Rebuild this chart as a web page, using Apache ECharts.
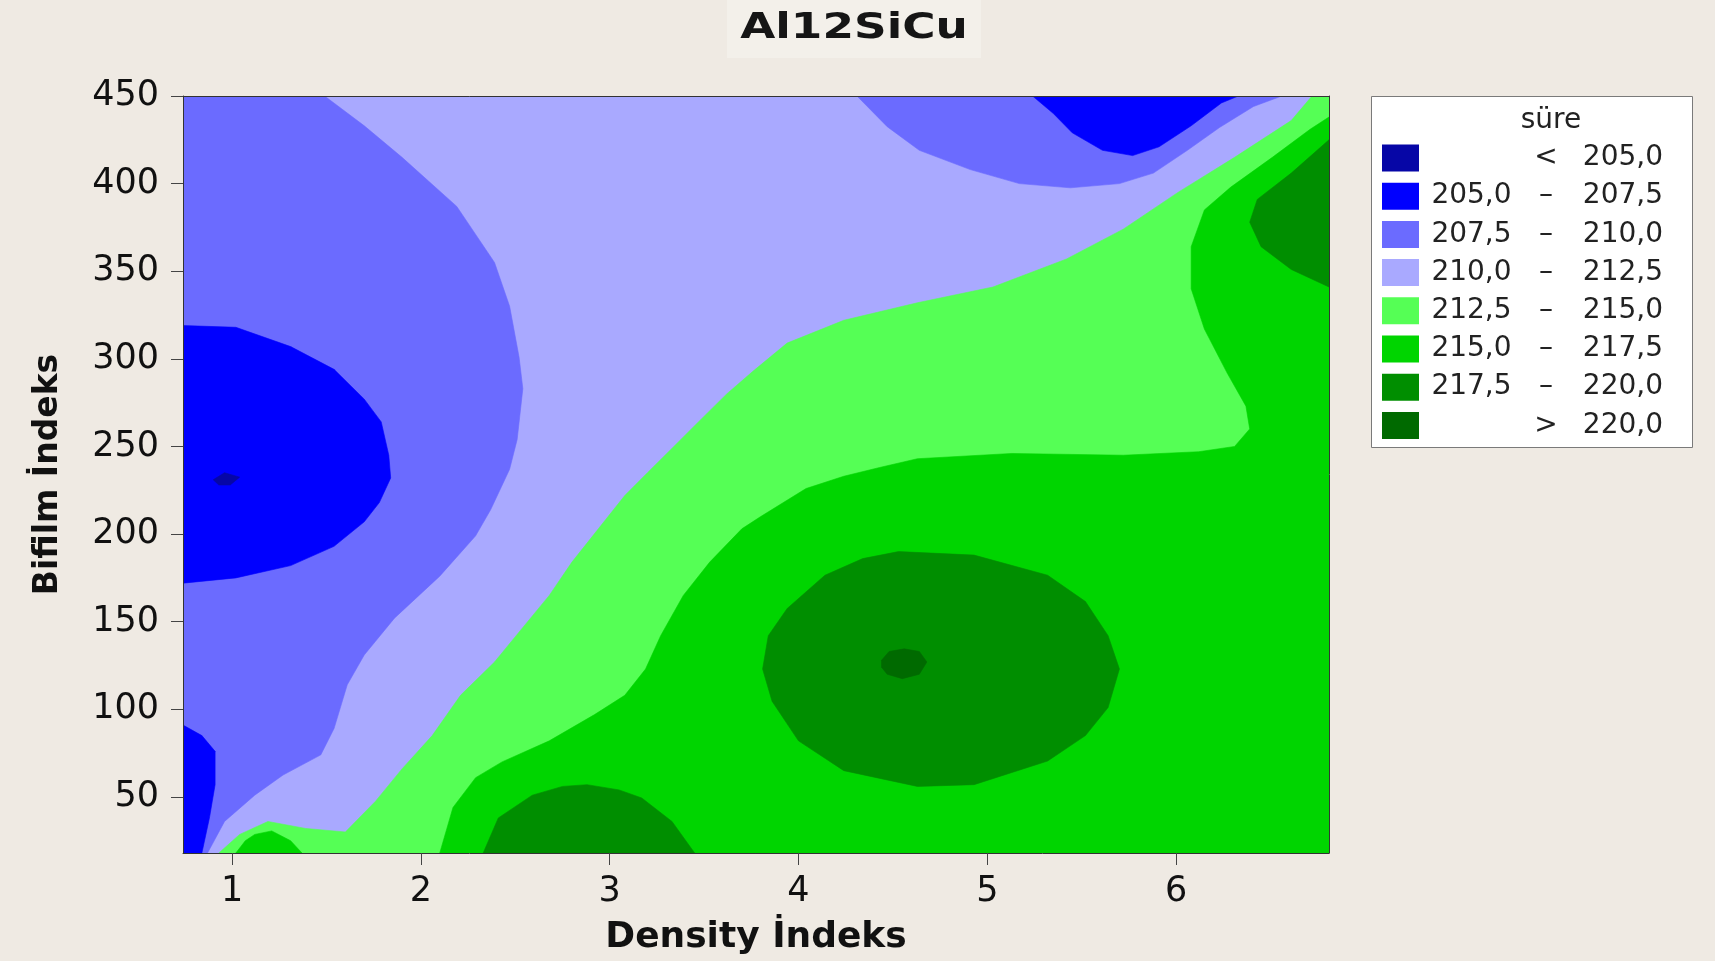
<!DOCTYPE html>
<html>
<head>
<meta charset="utf-8">
<script src="https://cdn.jsdelivr.net/npm/echarts@6/dist/echarts.min.js"></script>
<style>
  html, body { margin: 0; padding: 0; background: #efeae3; }
  #chart { width: 1715px; height: 961px; }
</style>
</head>
<body>
<div id="chart"></div>
<script>
// Axis extents and tick positions
const xRange = [0.74, 6.81];
const yRange = [18, 450];
const xTicks = [1, 2, 3, 4, 5, 6];
const yTicks = [50, 100, 150, 200, 250, 300, 350, 400, 450];

// Contour levels of "süre" (legend order)
const levelNames = ['< 205,0', '205,0 – 207,5', '207,5 – 210,0', '210,0 – 212,5',
                    '212,5 – 215,0', '215,0 – 217,5', '217,5 – 220,0', '> 220,0'];
const levelColors = ['#0606a6', '#0000ff', '#6b6bff', '#a9a9ff',
                     '#55ff55', '#00d500', '#008e00', '#006a00'];

// Filled regions per level, as [Density İndeks, Bifilm İndeks] outlines
const band210 = [
  [[0.74, 18], [6.81, 18], [6.81, 450], [0.74, 450]]
];
const band212 = [
  [[0.93, 18], [1.04, 28.6], [1.19, 36], [1.39, 32], [1.60, 30], [1.76, 47.6], [1.90, 66],
   [2.06, 85], [2.21, 108], [2.39, 127], [2.55, 148], [2.68, 165], [2.80, 184], [2.94, 203],
   [3.08, 222], [3.20, 235], [3.34, 250], [3.47, 264], [3.62, 280], [3.76, 293], [3.94, 309],
   [4.24, 322], [4.63, 332], [5.03, 341], [5.42, 357], [5.72, 374], [6.01, 395], [6.31, 415],
   [6.61, 436], [6.72, 450], [6.81, 450], [6.81, 18]]
];
const band215 = [
  [[2.10, 18], [2.17, 44], [2.29, 61], [2.43, 70], [2.68, 82], [2.92, 97], [3.08, 108],
   [3.19, 123], [3.27, 142], [3.39, 165], [3.53, 184], [3.70, 203], [3.80, 210], [4.04, 226],
   [4.24, 233], [4.43, 238], [4.63, 243], [5.13, 246], [5.72, 245], [6.12, 247], [6.31, 250],
   [6.39, 260], [6.37, 273], [6.27, 292], [6.15, 317], [6.08, 340], [6.08, 364], [6.15, 385],
   [6.29, 398], [6.51, 415], [6.71, 431], [6.81, 438], [6.81, 18]],
  [[1.02, 18], [1.07, 25], [1.12, 28.6], [1.21, 30.6], [1.31, 25], [1.37, 18]]
];
const band217 = [
  [[4.53, 190], [4.93, 188], [5.32, 176.5], [5.52, 161.5], [5.64, 142], [5.70, 123],
   [5.64, 101], [5.52, 85], [5.32, 70.5], [4.93, 57], [4.63, 56], [4.24, 65], [4.00, 82],
   [3.86, 104.6], [3.81, 123], [3.84, 142], [3.94, 157.5], [4.14, 176.5], [4.34, 186]],
  [[2.33, 18], [2.41, 38], [2.59, 51], [2.75, 56], [2.88, 57], [3.05, 54], [3.17, 49.4],
   [3.33, 36], [3.45, 18]],
  [[6.81, 425], [6.61, 406], [6.43, 391], [6.39, 378], [6.45, 364], [6.61, 351], [6.81, 341]]
];
const band220 = [
  [[4.44, 128], [4.48, 133], [4.56, 134.5], [4.64, 133], [4.68, 127], [4.64, 120],
   [4.55, 117.5], [4.47, 120], [4.44, 124]]
];
const band207 = [
  [[0.74, 450], [1.49, 450], [1.70, 433], [1.90, 415], [2.19, 387], [2.39, 355], [2.47, 330],
   [2.52, 301], [2.54, 283], [2.51, 254], [2.47, 237], [2.37, 214], [2.29, 199], [2.10, 176],
   [1.86, 152], [1.70, 131], [1.61, 114], [1.54, 89], [1.47, 74], [1.27, 62.5], [1.12, 51],
   [0.96, 36], [0.87, 18], [0.74, 18]],
  [[4.31, 450], [4.47, 432.5], [4.64, 419], [4.91, 408], [5.17, 400], [5.44, 397.6],
   [5.70, 400], [5.88, 406], [6.06, 419], [6.23, 432], [6.41, 444], [6.56, 450]]
];
const band205 = [
  [[0.74, 319], [1.02, 318], [1.31, 307], [1.54, 294], [1.70, 277], [1.79, 264], [1.83, 245],
   [1.84, 232], [1.78, 218], [1.70, 207], [1.54, 193], [1.31, 182], [1.02, 175], [0.74, 172]],
  [[0.74, 91], [0.84, 85], [0.91, 76], [0.91, 57], [0.88, 38], [0.84, 18], [0.74, 18]],
  [[5.24, 450], [5.35, 440], [5.45, 429], [5.61, 419], [5.77, 416], [5.91, 421],
   [6.08, 433], [6.24, 446], [6.33, 450]]
];
const bandLow = [
  [[0.90, 231], [0.96, 235], [1.04, 232.5], [0.99, 228], [0.93, 228]]
];

// Painting order: background band first, enclosed bands on top
const drawOrder = [
  { level: 3, polys: band210 },
  { level: 4, polys: band212 },
  { level: 5, polys: band215 },
  { level: 6, polys: band217 },
  { level: 7, polys: band220 },
  { level: 2, polys: band207 },
  { level: 1, polys: band205 },
  { level: 0, polys: bandLow }
];

const FONT = '"DejaVu Sans", Verdana, sans-serif';

function polygonRenderer(polys) {
  return function (params, api) {
    const pts = polys[params.dataIndex].map(function (p) { return api.coord(p); });
    return {
      type: 'polygon',
      shape: { points: pts },
      style: { fill: api.visual('color'), stroke: api.visual('color'), lineWidth: 0.6 }
    };
  };
}

const series = drawOrder.map(function (b) {
  return {
    type: 'custom',
    name: levelNames[b.level],
    xAxisIndex: 0,
    yAxisIndex: 0,
    clip: true,
    z: 2,
    itemStyle: { color: levelColors[b.level] },
    encode: { x: 0, y: 1 },
    data: b.polys.map(function (poly) { return poly[0]; }),
    renderItem: polygonRenderer(b.polys)
  };
});

const richCell = { fontSize: 28, fontFamily: FONT, color: '#222', lineHeight: 27 };

const option = {
  animation: false,
  backgroundColor: '#efeae3',
  grid: { left: 183, top: 96, right: 386, bottom: 106, show: false },
  graphic: [
    { type: 'rect', z: 0, shape: { x: 727, y: 0, width: 254, height: 58 },
      style: { fill: '#f3f0ea' } },
    { type: 'text', z: 1, x: 854, y: 29, scaleX: 1.26,
      style: { text: 'Al12SiCu', font: 'bold 36px ' + FONT, fill: '#151515',
               textAlign: 'center', textVerticalAlign: 'middle' } },
    { type: 'rect', z: 1, shape: { x: 1371.5, y: 96.5, width: 321, height: 351 },
      style: { fill: '#ffffff', stroke: '#7a7a7a', lineWidth: 1 } },
    { type: 'text', z: 2, x: 1551, y: 121,
      style: { text: 'süre', font: '28px ' + FONT, fill: '#222',
               textAlign: 'center', textVerticalAlign: 'middle' } }
  ],
  legend: {
    orient: 'vertical',
    left: 1382,
    top: 144,
    padding: 0,
    itemWidth: 37,
    itemHeight: 27,
    itemGap: 10.2,
    icon: 'rect',
    selectedMode: false,
    z: 5,
    data: levelNames,
    formatter: function (name) {
      if (name[0] === '<' || name[0] === '>') {
        return '{a| }{b|' + name[0] + '}{c|' + name.slice(2) + '}';
      }
      const parts = name.split(' – ');
      return '{a|' + parts[0] + '}{b|–}{c|' + parts[1] + '}';
    },
    textStyle: {
      fontSize: 28, fontFamily: FONT, color: '#222',
      rich: {
        a: Object.assign({ width: 95, align: 'right' }, richCell),
        b: Object.assign({ width: 54, align: 'center' }, richCell),
        c: Object.assign({ width: 90, align: 'right' }, richCell)
      }
    }
  },
  xAxis: [
    {
      type: 'value', min: xRange[0], max: xRange[1], position: 'bottom', z: 5,
      name: 'Density İndeks', nameLocation: 'middle', nameGap: 67,
      nameTextStyle: { fontSize: 36, fontWeight: 'bold', fontFamily: FONT, color: '#111' },
      axisLine: { show: true, onZero: false, lineStyle: { color: '#333', width: 1 } },
      axisTick: { show: true, length: 12, customValues: xTicks, lineStyle: { color: '#444' } },
      axisLabel: { customValues: xTicks, fontSize: 35, fontFamily: FONT, color: '#111', margin: 21 },
      splitLine: { show: false }
    },
    {
      type: 'value', min: xRange[0], max: xRange[1], position: 'top', z: 5,
      axisLine: { show: true, onZero: false, lineStyle: { color: '#333', width: 1 } },
      axisTick: { show: false }, axisLabel: { show: false }, splitLine: { show: false }
    }
  ],
  yAxis: [
    {
      type: 'value', min: yRange[0], max: yRange[1], position: 'left', z: 5,
      name: 'Bifilm İndeks', nameLocation: 'middle', nameGap: 118, nameRotate: 90,
      nameTextStyle: { fontSize: 33, fontWeight: 'bold', fontFamily: FONT, color: '#111' },
      axisLine: { show: true, onZero: false, lineStyle: { color: '#333', width: 1 } },
      axisTick: { show: true, length: 12, customValues: yTicks, lineStyle: { color: '#444' } },
      axisLabel: { customValues: yTicks, fontSize: 35, fontFamily: FONT, color: '#111', margin: 24 },
      splitLine: { show: false }
    },
    {
      type: 'value', min: yRange[0], max: yRange[1], position: 'right', z: 5,
      axisLine: { show: true, onZero: false, lineStyle: { color: '#333', width: 1 } },
      axisTick: { show: false }, axisLabel: { show: false }, splitLine: { show: false }
    }
  ],
  series: series
};

const chart = echarts.init(document.getElementById('chart'), null, { renderer: 'canvas' });
chart.setOption(option);
</script>
</body>
</html>
